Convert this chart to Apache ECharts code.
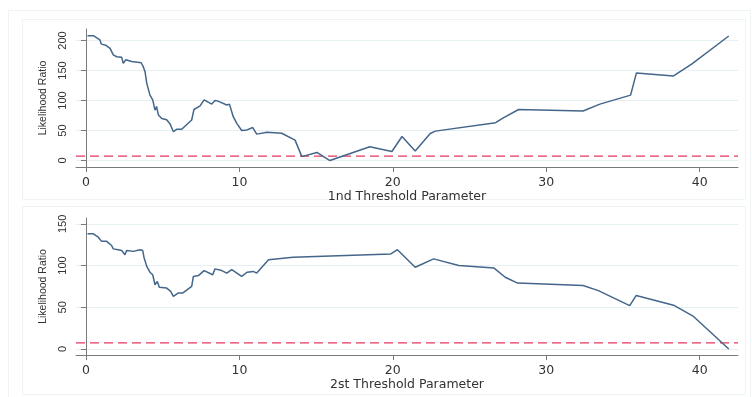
<!DOCTYPE html>
<html>
<head>
<meta charset="utf-8">
<script src="https://cdn.jsdelivr.net/npm/echarts@6/dist/echarts.min.js"></script>
<style>
html,body{margin:0;padding:0;background:#fff;}
#c{width:752px;height:397px;}
</style>
</head>
<body>
<div id="c"></div>
<script>
// Panel 1: likelihood ratio vs 1st threshold parameter
const x1 = [0.1,0.48,0.91,1.0,1.3,1.57,1.78,2.0,2.33,2.43,2.6,2.98,3.6,3.74,3.85,3.96,4.17,4.35,4.5,4.6,4.72,4.94,5.26,5.48,5.7,5.9,6.24,6.89,7.04,7.44,7.7,8.2,8.4,8.6,9.18,9.35,9.6,9.83,10.15,10.5,10.87,11.13,11.8,12.76,13.63,14.07,15.05,15.9,18.5,19.94,20.6,21.46,22.44,22.77,26.7,27.2,28.2,32.4,33.5,35.5,35.88,38.3,39.5,41.9];
const y1 = [208,208,201,194,192,187,176,173,172,162,168,165,163,156,148,129,109,101,84,90,76,70,68,61,48,52,52,67.5,85,91,101,94,100,99,92.5,94,73,62,50,51,55,44,47,45.5,34,6.5,13.5,0,23,15,40,16,45,49,63,71,85,82.5,94,109,146,141,161,207.5];
// Panel 2: likelihood ratio vs 2nd threshold parameter
const x2 = [0.1,0.48,0.8,1.02,1.35,1.67,1.78,2.1,2.33,2.54,2.65,3.09,3.52,3.7,3.78,3.96,4.17,4.35,4.5,4.65,4.78,5.26,5.52,5.7,6.0,6.3,6.89,7.0,7.33,7.7,8.26,8.41,8.85,9.18,9.5,10.15,10.5,10.9,11.13,11.9,13.5,19.87,20.3,21.46,22.66,24.3,26.6,27.33,28.13,32.4,33.4,35.44,35.86,38.3,39.6,41.9];
const y2 = [138,138,134,129,129,124,120,119,118,113,118,117,119,118,110,99,92,89,77,81,74,73,69,63,67,67,75,87,88,94,89,96,94,91,95,87,92,93,91,107,110,114,119,98,108,100,97,86,79,76,70,52,64,52.5,39,0];
// critical value line
const critical = 7.35;
const xTicks = [0,10,20,30,40];
const yTicks1 = [0,50,100,150,200];
const yTicks2 = [0,50,100,150];
const xNames = ['1nd Threshold Parameter','2st Threshold Parameter'];
const yName = 'Likelihood Ratio';

const X_MIN = -0.65, X_MAX = 42.5;
const pair = (xs, ys) => xs.map((v, i) => [v, ys[i]]);
const axisColor = '#7a7a7a';
const textColor = '#333';
const lineColor = '#44668a';
const dashColor = '#e23a5e';

function xAxis(idx, name) {
  return {
    type: 'value', gridIndex: idx, min: X_MIN, max: X_MAX,
    name: name, nameLocation: 'middle', nameGap: 18,
    nameTextStyle: {fontFamily: 'DejaVu Sans', fontSize: 12.5, color: textColor},
    axisLine: {show: true, onZero: false, lineStyle: {color: axisColor, width: 1}},
    axisTick: {show: true, length: 5, customValues: xTicks, lineStyle: {color: axisColor}},
    axisLabel: {customValues: xTicks, margin: 9, fontFamily: 'DejaVu Sans', fontSize: 12.5, color: textColor},
    splitLine: {show: false}
  };
}
function yAxis(idx, min, max, ticks) {
  return {
    type: 'value', gridIndex: idx, min: min, max: max,
    name: yName, nameLocation: 'middle', nameGap: 25, nameRotate: 90,
    nameTextStyle: {fontFamily: 'Liberation Sans', fontSize: 10.5, color: textColor},
    axisLine: {show: true, lineStyle: {color: axisColor, width: 1}},
    axisTick: {show: true, length: 5, customValues: ticks, lineStyle: {color: axisColor}},
    axisLabel: {customValues: ticks, rotate: 90, margin: 8, fontFamily: 'Liberation Sans', fontSize: 11, color: textColor},
    splitLine: {show: true, lineStyle: {color: '#e6eff2', width: 1}}
  };
}
function lineSeries(idx, data) {
  return {
    type: 'line', xAxisIndex: idx, yAxisIndex: idx, data: data,
    showSymbol: false, symbol: 'none', silent: true, animation: false,
    color: lineColor, z: 3,
    lineStyle: {color: lineColor, width: 1.5}
  };
}
function dashSeries(idx) {
  return {
    type: 'line', xAxisIndex: idx, yAxisIndex: idx,
    data: [[X_MIN, critical], [X_MAX, critical]],
    showSymbol: false, symbol: 'none', silent: true, animation: false,
    color: dashColor, z: 2,
    lineStyle: {color: dashColor, type: [9, 5], width: 1.2}
  };
}

const chart = echarts.init(document.getElementById('c'), null, {renderer: 'canvas'});
chart.setOption({
  backgroundColor: '#fff',
  animation: false,
  graphic: [
    {type: 'rect', shape: {x: 8.5, y: 10.5, width: 742, height: 390}, style: {fill: 'none', stroke: '#eef3f5', lineWidth: 1}, silent: true, z: -10},
    {type: 'rect', shape: {x: 22.5, y: 19.5, width: 723, height: 180}, style: {fill: 'none', stroke: '#eef3f5', lineWidth: 1}, silent: true, z: -10},
    {type: 'rect', shape: {x: 22.5, y: 206.5, width: 723, height: 188}, style: {fill: 'none', stroke: '#eef3f5', lineWidth: 1}, silent: true, z: -10}
  ],
  grid: [
    {left: 76, right: 14, top: 29, height: 138},
    {left: 76, right: 14, top: 218, height: 137}
  ],
  xAxis: [xAxis(0, xNames[0]), xAxis(1, xNames[1])],
  yAxis: [yAxis(0, -10.8, 219.2, yTicks1), yAxis(1, -7.2, 157, yTicks2)],
  series: [lineSeries(0, pair(x1, y1)), dashSeries(0), lineSeries(1, pair(x2, y2)), dashSeries(1)]
});
</script>
</body>
</html>
